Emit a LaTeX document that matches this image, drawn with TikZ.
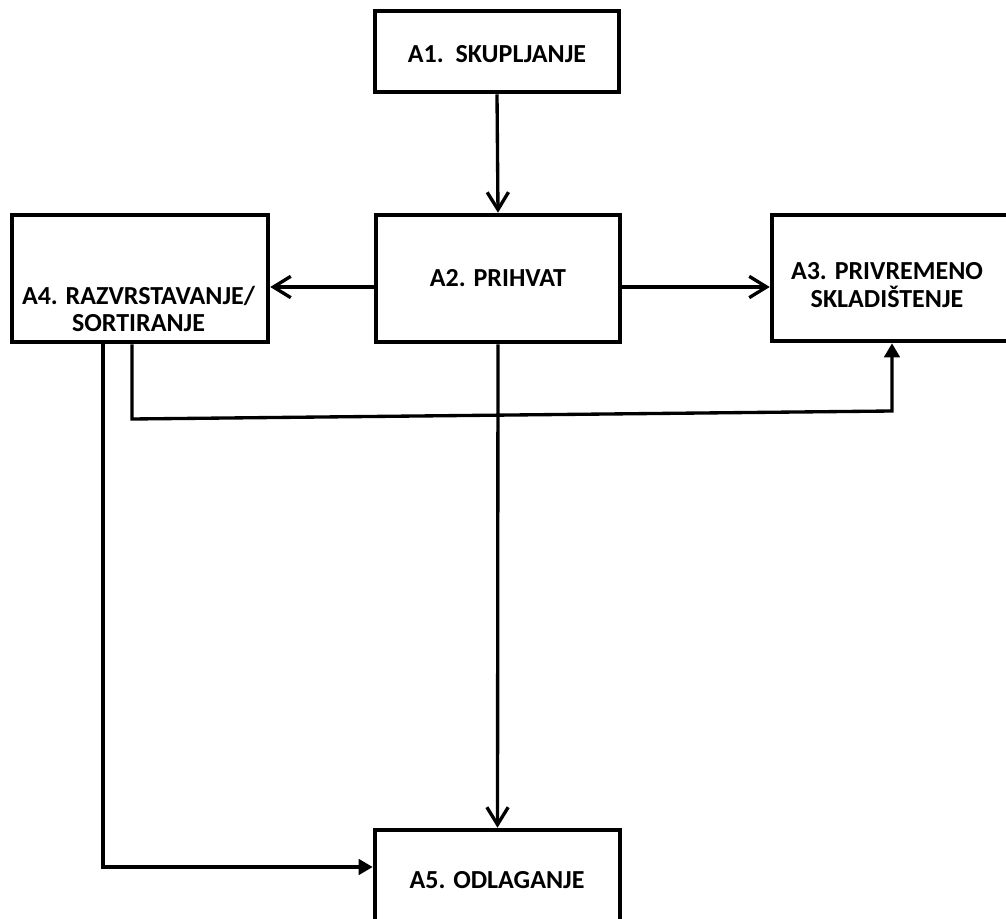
\documentclass[tikz,border=0pt]{standalone}
\usepackage{fontspec}
\setmainfont{Carlito}
\usetikzlibrary{arrows.meta}
\begin{document}
\begin{tikzpicture}[x=0.75pt,y=-0.75pt,
  box/.style={draw, line width=3.4pt, rectangle, inner sep=0pt},
  txt/.style={font=\fontsize{19.5}{20.5}\selectfont\bfseries, align=center, inner sep=0pt},
  conn/.style={line width=2.5pt},
  open/.style={conn, -{Straight Barb[length=13pt, width=16pt, line width=2.5pt]}},
  fill tip/.style={conn, -{Triangle[length=10.5pt, width=11.5pt]}}
]
\useasboundingbox (0,0) rectangle (1006,919);
% boxes
\node[box, minimum width=183pt, minimum height=60.75pt] (a1) at (497,51.5) {};
\node[box, minimum width=183pt, minimum height=95.25pt] (a2) at (498,278.5) {};
\node[box, minimum width=180pt, minimum height=94.5pt] (a3) at (892,278) {};
\node[box, minimum width=192pt, minimum height=95.25pt] (a4) at (140,278.5) {};
\node[box, minimum width=183.75pt, minimum height=75pt] (a5) at (497.5,880) {};
% texts
\node[txt] (t1) at (497,54) {A1.\ \ SKUPLJANJE};
\node[txt] (t2) at (498,278) {A2. PRIHVAT};
\node[txt] (t3) at (887,285) {A3. PRIVREMENO\\SKLADIŠTENJE};
\node[txt] (t4) at (138.5,309) {A4. RAZVRSTAVANJE/\\SORTIRANJE};
\node[txt] (t5) at (497,880) {A5. ODLAGANJE};
% connectors
\draw[open] (a1.south) -- (a2.north);
\draw[open] (a2.west |- 0,287) -- (a4.east |- 0,287);
\draw[open] (a2.east |- 0,287) -- (a3.west |- 0,287);
\draw[open] (a2.south) -- (a5.north);
\coordinate (c1) at (132,419);
\coordinate (c2) at (892,411);
\draw[fill tip] (a4.south -| c1) -- (c1) -- (c2) -- (a3.south);
\coordinate (c3) at (103,867);
\draw[fill tip] (a4.south -| c3) -- (c3) -- (a5.west |- c3);
\end{tikzpicture}
\end{document}
